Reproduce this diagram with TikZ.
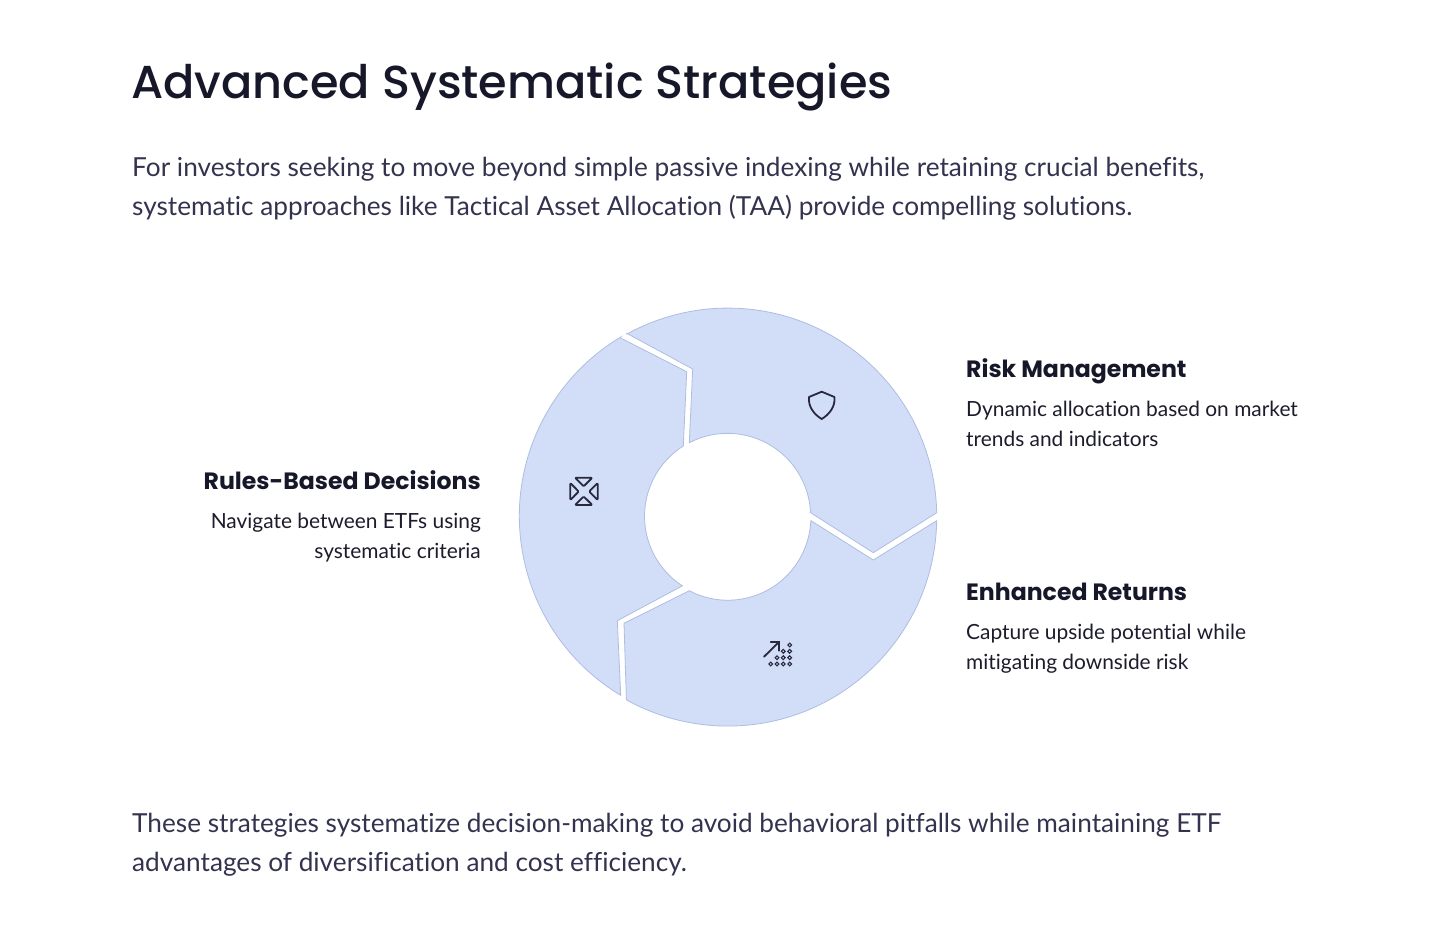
\documentclass[tikz,border=0pt]{standalone}
\usepackage{fontspec}
\setmainfont{Lato}[Ligatures=NoCommon]
\newfontfamily\titlefont{Poppins Medium}
\newfontfamily\headfont{Poppins}[BoldFont={Poppins Bold}]
\definecolor{ringfill}{HTML}{D2DEF8}
\definecolor{ringline}{HTML}{AEBEE0}
\definecolor{inkdark}{HTML}{17172A}
\definecolor{inkbody}{HTML}{33334F}
\definecolor{inkdesc}{HTML}{1C1C2C}
\definecolor{iconink}{HTML}{28283E}
\tikzset{
  x=1pt,y=-1pt,
  seg/.style={fill=ringfill,draw=ringline,line width=0.8pt,line join=miter},
  icon/.style={draw=iconink,line width=1.8pt,line join=round,line cap=round},
  dotmark/.style={draw=iconink,line width=1.1pt},
  title/.style={anchor=base west,inner sep=0pt,text=inkdark,font=\titlefont\fontsize{46.2}{56}\selectfont},
  para/.style={anchor=base west,inner sep=0pt,text=inkbody,align=left,font=\fontsize{26.2}{39}\selectfont},
  headl/.style={inner sep=0pt,text=inkdark,font=\headfont\bfseries\fontsize{23.6}{28}\selectfont},
  descr/.style={inner sep=0pt,text=inkdesc,font=\fontsize{20.9}{30}\selectfont},
}
\begin{document}
\begin{tikzpicture}
\useasboundingbox (0,0) rectangle (1456,935);
\fill[white] (0,0) rectangle (1456,935);
\coordinate (c) at (728,517);
% top-right segment
\draw[seg] (626.7,333.3) -- (692.7,369) -- (689.3,442.7)
  arc[start angle=-117.5,end angle=-2.55,radius=83] -- (873.3,552.7) -- (936.7,512.7)
  arc[start angle=-1.2,end angle=-118.9,radius=209] -- cycle;
% bottom segment
\draw[seg] (811,520.7) -- (873.3,560) -- (936.7,520.7)
  arc[start angle=1,end angle=119,radius=209] -- (624,623.3) -- (689.3,590.7)
  arc[start angle=117.7,end angle=2.55,radius=83] -- cycle;
% left segment
\draw[seg] (620,337.7) -- (686.7,371.7) -- (683.3,446)
  arc[start angle=237.8,end angle=123,radius=83] -- (617.3,620.7) -- (620.7,695.3)
  arc[start angle=121,end angle=238.94,radius=209] -- cycle;
% shield
\draw[icon] (821.7,391.7) -- (834.4,397) .. controls (835.5,407) and (829,414.5) .. (821.7,419)
  .. controls (814.4,414.5) and (807.9,407) .. (809,397) -- cycle;
% four triangles
\draw[icon,rounded corners=1pt] (575,477.7) -- (592.3,477.7) -- (583.7,486.3) -- cycle;
\draw[icon,rounded corners=1pt] (575,505) -- (592.3,505) -- (583.7,496.5) -- cycle;
\draw[icon,rounded corners=1pt] (570.3,483) -- (570.3,500) -- (578.7,491.5) -- cycle;
\draw[icon,rounded corners=1pt] (597.7,483) -- (597.7,500) -- (589.2,491.5) -- cycle;
% arrow and dots
\draw[icon] (764,656.7) -- (779.3,641.7);
\draw[icon] (770.7,641.7) -- (779.3,641.7) -- (779.3,650.7);
\foreach \px/\py in {770.7/664,777/664,783.3/664,789.7/664,777/657.7,783.3/657.7,789.7/657.7,783.3/651.3,789.7/651.3,789.7/645}
  \draw[dotmark] (\px,\py) circle[radius=1.9];
% texts
\node[title] (ttl) at (131,98) {Advanced Systematic Strategies};
\node[para] (intro) at (132,215) {For investors seeking to move beyond simple passive indexing while retaining crucial benefits,\\systematic approaches like Tactical Asset Allocation (TAA) provide compelling solutions.};
\node[para] (outro) at (132,871) {These strategies systematize decision-making to avoid behavioral pitfalls while maintaining ETF\\advantages of diversification and cost efficiency.};
\node[headl,anchor=base west] (rh) at (966,377) {Risk Management};
\node[descr,anchor=base west,align=left] (rd) at (966,446) {Dynamic allocation based on market\\trends and indicators};
\node[headl,anchor=base west] (eh) at (966,600) {Enhanced Returns};
\node[descr,anchor=base west,align=left] (ed) at (966,669) {Capture upside potential while\\mitigating downside risk};
\node[headl,anchor=base east] (lh) at (481,489) {Rules-Based Decisions};
\node[descr,anchor=base east,align=right] (ld) at (481,558) {Navigate between ETFs using\\systematic criteria};
\end{tikzpicture}
\end{document}
